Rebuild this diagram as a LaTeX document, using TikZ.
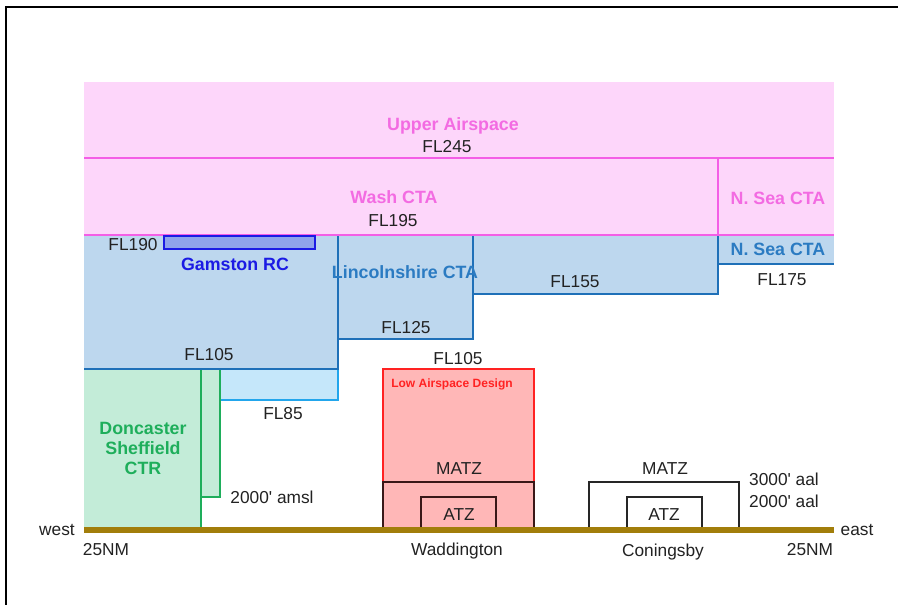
\documentclass[tikz,border=0pt]{standalone}
\usepackage{fontspec}
\setmainfont{Liberation Sans}
\definecolor{pinkfill}{HTML}{FDD6FA}
\definecolor{magline}{HTML}{F45EE6}
\definecolor{magtext}{HTML}{F36BE2}
\definecolor{bluefill}{HTML}{BDD7EE}
\definecolor{blueline}{HTML}{1F70B8}
\definecolor{bluetext}{HTML}{2B7BC2}
\definecolor{gamfill}{HTML}{8FA3EB}
\definecolor{gamline}{HTML}{1B1BE4}
\definecolor{cyanfill}{HTML}{C5E7FA}
\definecolor{cyanline}{HTML}{22A6EC}
\definecolor{greenfill}{HTML}{C3ECD8}
\definecolor{greenline}{HTML}{1EAE5B}
\definecolor{redfill}{HTML}{FFB7B7}
\definecolor{redline}{HTML}{FF2222}
\definecolor{darkline}{HTML}{3A1818}
\definecolor{groundc}{HTML}{A27E0B}
\definecolor{txt}{HTML}{222222}
\begin{document}
\begin{tikzpicture}[x=1pt,y=-1pt,
  font=\fontsize{17.3}{20}\selectfont,
  lbl/.style={inner sep=0pt, text=txt, text height=12.4pt, text depth=0pt},
  blbl/.style={lbl, font=\fontsize{17.8}{20}\selectfont\bfseries},
  magl/.style={magline, line width=2.8pt},
  bluel/.style={blueline, line width=2.8pt},
  greenl/.style={greenline, line width=2.6pt},
  darkl/.style={darkline, line width=1.8pt},
  blackl/.style={black!85, line width=1.6pt}]
\useasboundingbox (0,0) rectangle (898,605);
\fill[white] (0,0) rectangle (898,605);
\draw[line width=1.5pt] (6,605) -- (6,7) -- (898,7);

% fills
\fill[pinkfill] (84,82) rectangle (834,235);
\fill[bluefill] (84,235) rectangle (338,369);
\fill[bluefill] (338,235) rectangle (473,339);
\fill[bluefill] (473,235) rectangle (718,294);
\fill[bluefill] (718,235) rectangle (834,264);
\fill[greenfill] (84,369) rectangle (201,527);
\fill[greenfill] (201,369) rectangle (220,497);
\fill[cyanfill] (220,369) rectangle (338,400);
\fill[redfill] (383,369) rectangle (534,527);

% magenta lines
\draw[magl] (84,158) -- (834,158);
\draw[magl] (84,235) -- (834,235);
\draw[magl] (718,158) -- (718,235);

% blue lines
\draw[bluel] (338,236) -- (338,369);
\draw[bluel] (473,236) -- (473,339) -- (338,339);
\draw[bluel] (473,294) -- (718,294) -- (718,236);
\draw[bluel] (718,264) -- (834,264);
\draw[cyanline, line width=2.6pt] (220,400) -- (338,400) -- (338,369);
\draw[bluel] (84,369) -- (339,369);

% Gamston
\draw[gamline, fill=gamfill, line width=2.5pt] (164,236) rectangle (315,249);

% green
\draw[greenl] (201,370) -- (201,527);
\draw[greenl] (220,370) -- (220,497) -- (201,497);

% Waddington
\draw[redline, line width=2.5pt] (383,527) -- (383,369) -- (534,369) -- (534,527);
\draw[darkl] (383,527) -- (383,482) -- (534,482) -- (534,527);
\draw[darkl] (421,527) -- (421,497) -- (496,497) -- (496,527);

% Coningsby
\draw[blackl] (589,527) -- (589,482) -- (739,482) -- (739,527);
\draw[blackl] (627,527) -- (627,497) -- (702,497) -- (702,527);

% ground
\draw[groundc, line width=6pt] (84,530) -- (834,530);

% labels
\node[blbl, text=magtext] (upper) at (453,124) {Upper Airspace};
\node[lbl] (fl245) at (447,146) {FL245};
\node[blbl, text=magtext] (wash) at (394,197) {Wash CTA};
\node[lbl] (fl195) at (393,220) {FL195};
\node[blbl, text=magtext] (nseap) at (778,198) {N. Sea CTA};
\node[blbl, text=bluetext] (nseab) at (778,249) {N. Sea CTA};
\node[lbl] (fl175) at (782,279) {FL175};
\node[lbl] (fl155) at (575,281) {FL155};
\node[lbl] (fl190) at (133,244) {FL190};
\node[blbl, text=gamline] (gam) at (235,264) {Gamston RC};
\node[blbl, text=bluetext] (lincs) at (405,272) {Lincolnshire CTA};
\node[lbl] (fl125) at (406,327) {FL125};
\node[lbl] (fl105a) at (209,354) {FL105};
\node[lbl] (fl105b) at (458,358) {FL105};
\node[lbl] (fl85) at (283,413) {FL85};
\node[blbl, text=greenline, align=center, text height=, text depth=] (donc) at (143,448) {Doncaster\\Sheffield\\CTR};
\node[lbl] (amsl) at (272,497) {2000\textquotesingle{} amsl};
\node[lbl, text=redline, font=\fontsize{12}{14}\selectfont\bfseries, text height=8.6pt] (lad) at (452,383) {Low Airspace Design};
\node[lbl] (matzw) at (459,468) {MATZ};
\node[lbl] (atzw) at (459,514) {ATZ};
\node[lbl] (wadd) at (457,549) {Waddington};
\node[lbl] (matzc) at (665,468) {MATZ};
\node[lbl] (atzc) at (664,514) {ATZ};
\node[lbl] (con) at (663,550) {Coningsby};
\node[lbl] (aal3) at (784,479) {3000\textquotesingle{} aal};
\node[lbl] (aal2) at (784,501) {2000\textquotesingle{} aal};
\node[lbl] (west) at (57,529) {west};
\node[lbl] (east) at (857,529) {east};
\node[lbl] (nmw) at (106,549) {25NM};
\node[lbl] (nme) at (810,549) {25NM};
\end{tikzpicture}
\end{document}
